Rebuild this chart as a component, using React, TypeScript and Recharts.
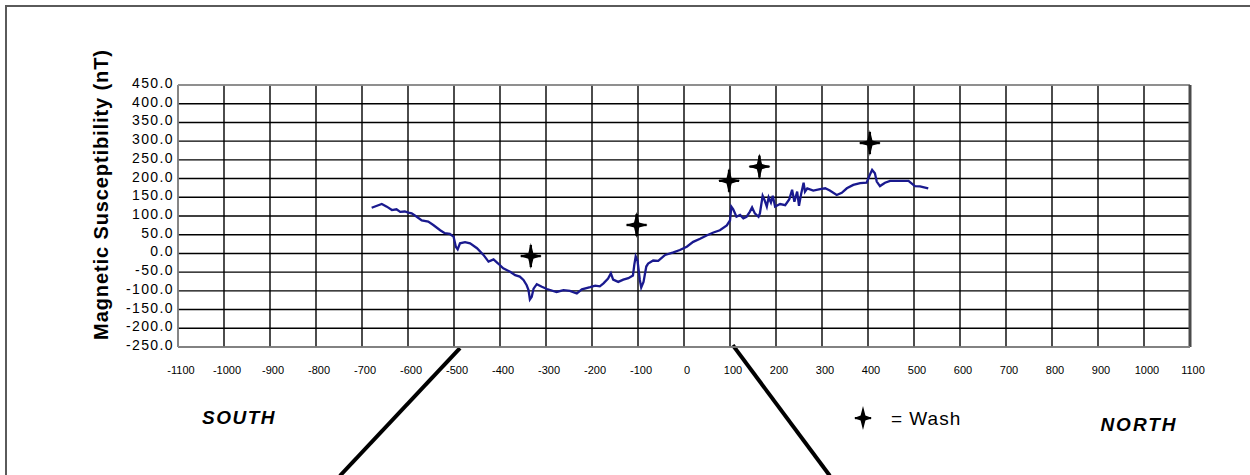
import React from "react";
import {
  ComposedChart,
  Line,
  Scatter,
  XAxis,
  YAxis,
  CartesianGrid,
  ReferenceLine,
} from "recharts";

// Distance along the traverse (m) and magnetic susceptibility (nT)
const distance = [
  -679, -657, -646, -635, -625, -617, -607, -599, -592, -581, -570, -556, -545, -530, -520, -509,
  -501, -496, -492, -487, -476, -465, -450, -436, -425, -414, -404, -393, -378, -367, -357, -349,
  -342, -338, -335, -331, -327, -320, -309, -298, -277, -262, -248, -233, -222, -204, -193, -183,
  -175, -165, -159, -154, -143, -132, -121, -111, -108, -105, -101, -96, -93, -88, -82, -78, -67,
  -56, -41, -23, -9, 6, 20, 35, 49, 64, 78, 93, 100, 103, 107, 114, 122, 129, 136, 143, 148, 154,
  162, 165, 171, 175, 180, 184, 189, 193, 198, 209, 220, 229, 235, 240, 246, 250, 255, 260, 263,
  268, 281, 296, 307, 317, 332, 343, 354, 368, 383, 397, 404, 409, 415, 419, 426, 437, 448, 470,
  488, 502, 513, 531,
];
const susceptibility = [
  122, 132, 125, 116, 118, 111, 112, 109, 107, 98, 88, 85, 76, 62, 54, 52,
  45, 18, 11, 27, 30, 27, 14, -4, -22, -16, -27, -40, -49, -58, -62, -71,
  -85, -98, -123, -116, -94, -82, -89, -95, -103, -98, -100, -107, -96, -90, -86, -88,
  -80, -67, -53, -70, -76, -70, -66, -59, -30, -8, -20, -71, -91, -76, -35, -27, -19,
  -20, -4, 3, 9, 18, 31, 39, 48, 56, 62, 75, 88, 125, 118, 98, 103, 94, 98, 111, 123, 107,
  98, 107, 154, 143, 125, 150, 136, 154, 125, 132, 129, 145, 170, 138, 165, 127, 161, 189, 165,
  174, 168, 172, 174, 168, 156, 162, 174, 183, 188, 189, 210, 223, 214, 192, 180, 189, 194, 194,
  194, 180, 179, 174,
];

// Wash locations
const washDistance = [-333, -103, 98, 164, 404];
const washValue = [-7, 76, 194, 232, 295];

// Axis ticks
const xTicks = [
  -1100, -1000, -900, -800, -700, -600, -500, -400, -300, -200, -100, 0, 100, 200, 300, 400, 500,
  600, 700, 800, 900, 1000, 1100,
];
const yTicks = [-250, -200, -150, -100, -50, 0, 50, 100, 150, 200, 250, 300, 350, 400, 450];

// Annotation lines (data space, extending below the plot)
const leftLeader = [
  { x: -487, y: -253 },
  { x: -748, y: -594 },
];
const rightLeader = [
  { x: 106, y: -245 },
  { x: 317, y: -594 },
];

const lineData = distance.map((x, i) => ({ x, y: susceptibility[i] }));
const washData = washDistance.map((x, i) => ({ x, y: washValue[i] }));

const FONT = '"Liberation Sans", Arial, sans-serif';

const starPath = (cx: number, cy: number, h: number, w: number, c: number) =>
  `M${cx},${cy - h} L${cx + c},${cy - c} L${cx + w},${cy} L${cx + c},${cy + c} L${cx},${cy + h} L${cx - c},${cy + c} L${cx - w},${cy} L${cx - c},${cy - c} Z`;

const WashStar = (props: any) => {
  const { cx, cy } = props;
  if (cx == null || cy == null) return null;
  return (
    <g>
      <path d={starPath(cx, cy, 13, 11, 2.6)} fill="#000" />
      <rect x={cx - 10} y={cy - 1.2} width={20} height={2.4} fill="#000" />
      <rect x={cx - 1.2} y={cy - 11} width={2.4} height={22} fill="#000" />
    </g>
  );
};

const YTick = (props: any) => {
  const { x, y, payload } = props;
  return (
    <text
      x={x}
      y={y - 2}
      textAnchor="end"
      dominantBaseline="central"
      fontFamily={FONT}
      fontSize={14}
      letterSpacing={1.4}
      fill="#000"
    >
      {Number(payload.value).toFixed(1)}
    </text>
  );
};

const XTick = (props: any) => {
  const { x, y, payload } = props;
  return (
    <text
      x={x + 3}
      y={y}
      textAnchor="middle"
      dominantBaseline="central"
      fontFamily={FONT}
      fontSize={11}
      fill="#000"
    >
      {payload.value}
    </text>
  );
};

export default function App() {
  return (
    <div style={{ position: "absolute", left: 0, top: 0, width: 1250, height: 475, background: "#fff", overflow: "hidden" }}>
      <div
        style={{
          position: "absolute",
          left: 5,
          top: 5,
          width: 1260,
          height: 480,
          borderTop: "2px solid #5a5a5a",
          borderLeft: "2px solid #5a5a5a",
        }}
      />
      <ComposedChart
        width={1250}
        height={475}
        margin={{ top: 85, right: 60, bottom: 0, left: 0 }}
        style={{ position: "absolute", left: 0, top: 0 }}
      >
        <CartesianGrid stroke="#000" strokeWidth={1.4} />
        <XAxis
          dataKey="x"
          type="number"
          domain={[-1100, 1100]}
          ticks={xTicks}
          interval={0}
          height={128}
          tickSize={0}
          tickMargin={23}
          axisLine={{ stroke: "#999", strokeWidth: 1.5 }}
          tickLine={false}
          tick={<XTick />}
          allowDataOverflow
        />
        <YAxis
          dataKey="y"
          type="number"
          domain={[-250, 450]}
          ticks={yTicks}
          interval={0}
          width={178}
          tickSize={0}
          tickMargin={4}
          axisLine={{ stroke: "#999", strokeWidth: 1.5 }}
          tickLine={false}
          tick={<YTick />}
          allowDataOverflow
        />
        <ReferenceLine y={450} stroke="#aaa" strokeWidth={1.5} />
        <ReferenceLine x={1100} stroke="#4a4a4a" strokeWidth={3} />
        <ReferenceLine segment={leftLeader} stroke="#000" strokeWidth={4} ifOverflow="visible" />
        <ReferenceLine segment={rightLeader} stroke="#000" strokeWidth={4} ifOverflow="visible" />
        <Line
          data={lineData}
          dataKey="y"
          type="linear"
          stroke="#1a1a8f"
          strokeWidth={2.3}
          dot={false}
          activeDot={false}
          isAnimationActive={false}
        />
        <Scatter data={washData} dataKey="y" shape={<WashStar />} isAnimationActive={false} />
      </ComposedChart>
      <svg
        width={1250}
        height={475}
        style={{ position: "absolute", left: 0, top: 0, pointerEvents: "none" }}
      >
        <text
          transform="translate(108,194.5) rotate(-90)"
          textAnchor="middle"
          fontFamily={FONT}
          fontWeight="bold"
          fontSize={20}
          letterSpacing={0.9}
          fill="#000"
        >
          Magnetic Susceptibility (nT)
        </text>
        <text
          x={239}
          y={417}
          textAnchor="middle"
          dominantBaseline="central"
          fontFamily={FONT}
          fontWeight="bold"
          fontStyle="italic"
          fontSize={19}
          letterSpacing={1.5}
          fill="#000"
        >
          SOUTH
        </text>
        <text
          x={1139}
          y={424}
          textAnchor="middle"
          dominantBaseline="central"
          fontFamily={FONT}
          fontWeight="bold"
          fontStyle="italic"
          fontSize={19}
          letterSpacing={2}
          fill="#000"
        >
          NORTH
        </text>
        <path d={starPath(863, 418, 12, 9, 2.4)} fill="#000" />
        <rect x={855} y={417} width={16} height={2.2} fill="#000" />
        <text
          x={891}
          y={418}
          dominantBaseline="central"
          fontFamily={FONT}
          fontSize={19}
          letterSpacing={1}
          fill="#000"
        >
          = Wash
        </text>
      </svg>
    </div>
  );
}
